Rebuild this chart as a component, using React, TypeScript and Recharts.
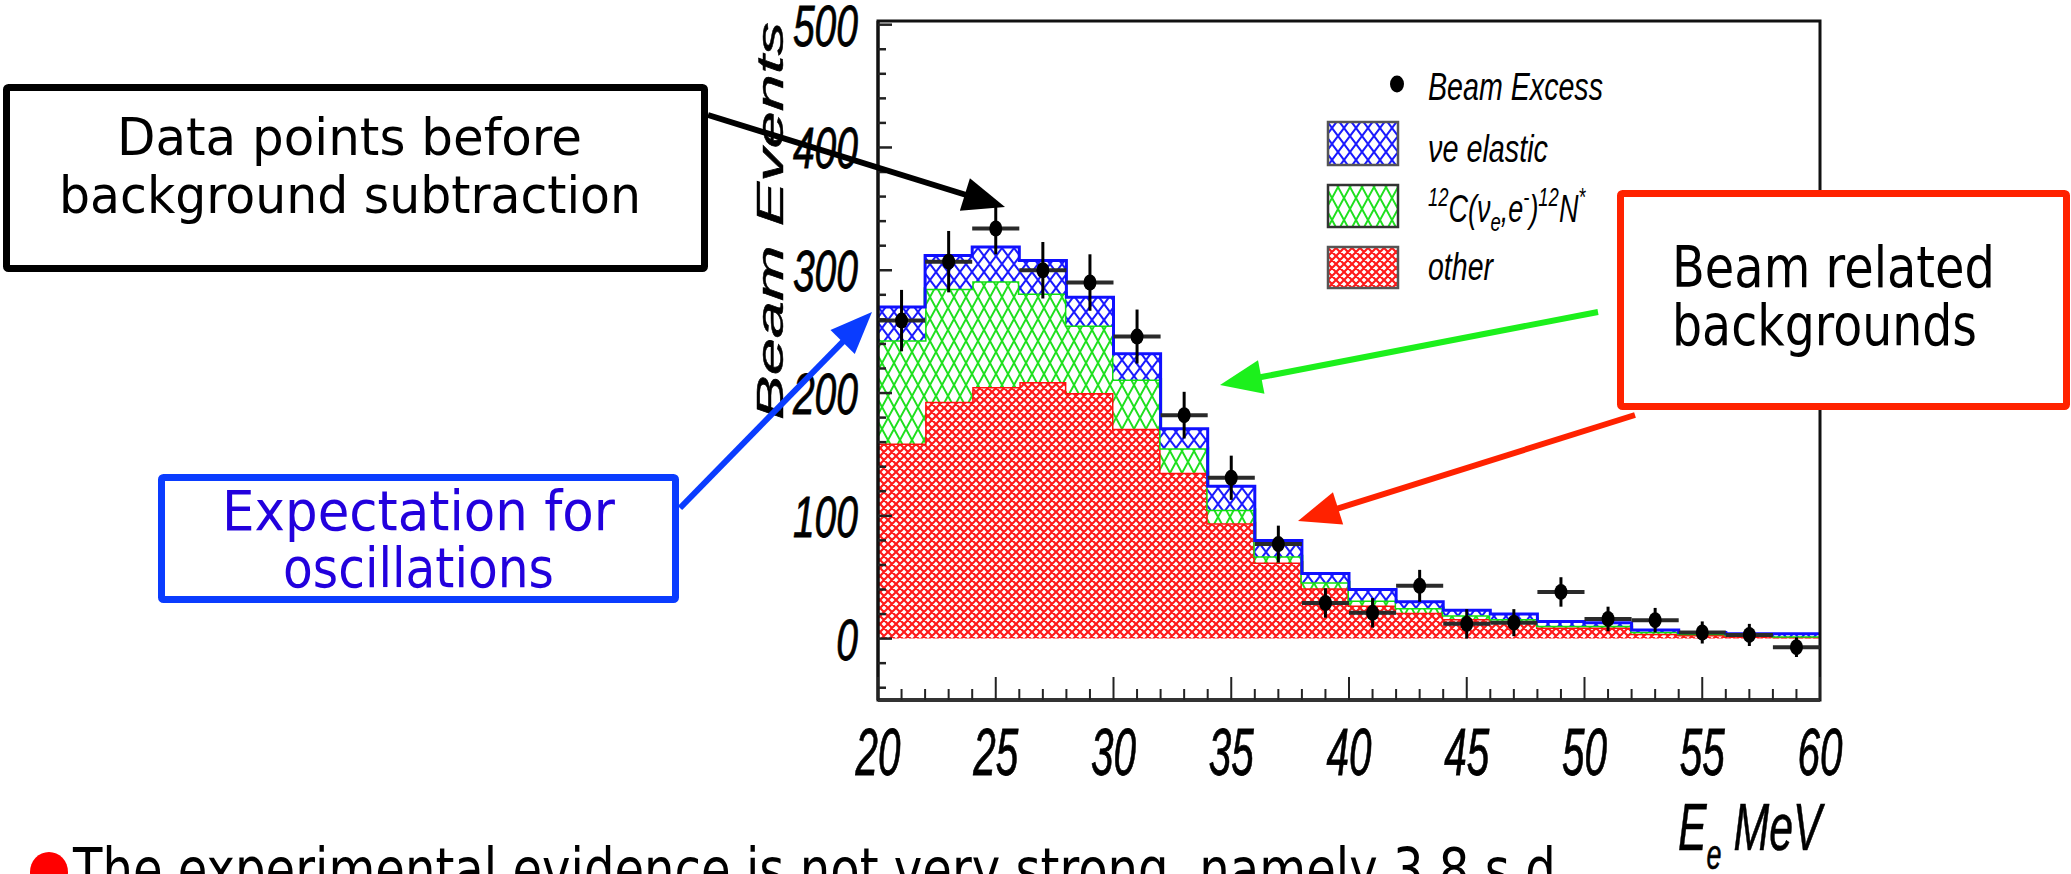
import React from 'react'
import { ComposedChart, Area, Scatter, ErrorBar, XAxis, YAxis, ReferenceArea } from 'recharts'

// 2 MeV bins, lower edges
const BIN_LOW = [20, 22, 24, 26, 28, 30, 32, 34, 36, 38, 40, 42, 44, 46, 48, 50, 52, 54, 56, 58]
const BIN_W = 2

// stacked expectation per bin
const OTHER = [159, 193, 205, 209, 200, 171, 135, 94, 62, 41, 27, 21, 16, 14, 9, 9, 4, 3, 2, 1.5]
const C12_NSTAR = [84, 92, 86, 72, 55, 40, 20, 11, 5, 5, 4, 4, 3, 2, 1.5, 1.5, 1.5, 1, 1, 0.5]
const NUE_ELASTIC = [27, 27, 28, 27, 23, 21, 16, 19, 13, 7, 9, 5, 4, 4, 3.5, 2.5, 1.5, 1, 1, 2]

// beam excess with statistical errors
const BEAM_EXCESS = [259, 307, 334, 300, 290, 246, 182, 131, 77, 29, 21, 43, 12, 13, 38, 16, 15, 5, 3, -7]
const EXCESS_ERR = [25, 25, 21, 23, 23, 22, 19, 18, 15, 12, 12, 13, 12, 11, 12, 10, 10, 9, 9, 8]

const X_DOMAIN = [20, 60]
const Y_DOMAIN = [-50, 503]

const range = (a: number, b: number, s: number) => {
  const out: number[] = []
  for (let v = a; v <= b; v += s) out.push(v)
  return out
}
const X_TICKS = range(20, 60, 1)
const Y_TICKS = range(-40, 500, 20)

const last = BIN_LOW.length - 1
const histData = [
  ...BIN_LOW.map((x, i) => ({ x, other: OTHER[i], c12: C12_NSTAR[i], nue: NUE_ELASTIC[i] })),
  { x: BIN_LOW[last] + BIN_W, other: OTHER[last], c12: C12_NSTAR[last], nue: NUE_ELASTIC[last] },
]
const points = BIN_LOW.map((x, i) => ({
  x: x + BIN_W / 2,
  y: BEAM_EXCESS[i],
  ey: EXCESS_ERR[i],
  ex: BIN_W / 2,
}))

const ROOT_FONT = '"Liberation Sans", Arial, sans-serif'
const NOTE_FONT = '"DejaVu Sans", sans-serif'

function YTick({ x, y, payload }: any) {
  const v = payload.value
  const major = v % 100 === 0
  return (
    <g>
      <line x1={x} x2={x + (major ? 14 : 8)} y1={y} y2={y} stroke="#222" strokeWidth={2.5} />
      {major && (
        <text
          x={x - 20}
          y={y + 21}
          textAnchor="end"
          fontFamily={ROOT_FONT}
          fontStyle="italic"
          fontSize={58}
          textLength={21.7 * String(v).length}
          lengthAdjust="spacingAndGlyphs"
          fill="#000"
          stroke="#000"
          strokeWidth={0.8}
        >
          {v}
        </text>
      )}
    </g>
  )
}

function XTick({ x, y, payload }: any) {
  const v = payload.value
  const major = v % 5 === 0
  return (
    <g>
      <line x1={x} x2={x} y1={y} y2={y - (major ? 23 : 11)} stroke="#222" strokeWidth={2} />
      {major && (
        <text
          x={x}
          y={y + 75}
          textAnchor="middle"
          fontFamily={ROOT_FONT}
          fontStyle="italic"
          fontSize={67}
          textLength={45}
          lengthAdjust="spacingAndGlyphs"
          fill="#000"
          stroke="#000"
          strokeWidth={0.8}
        >
          {v}
        </text>
      )}
    </g>
  )
}

const renderDot = (p: any) => <ellipse cx={p.cx} cy={p.cy} rx={6.5} ry={8} fill="#000" />

function Arrow({ from, to, color, width = 6, head = 42, half = 17 }: any) {
  const [x1, y1] = from
  const [x2, y2] = to
  const len = Math.hypot(x2 - x1, y2 - y1)
  const ux = (x2 - x1) / len
  const uy = (y2 - y1) / len
  const bx = x2 - ux * head
  const by = y2 - uy * head
  return (
    <g>
      <line x1={x1} y1={y1} x2={bx + ux * 4} y2={by + uy * 4} stroke={color} strokeWidth={width} />
      <polygon
        points={`${x2},${y2} ${bx - uy * half},${by + ux * half} ${bx + uy * half},${by - ux * half}`}
        fill={color}
      />
    </g>
  )
}

function Note({ x, y, len, size, color = '#000', children }: any) {
  return (
    <text
      x={x}
      y={y}
      fontFamily={NOTE_FONT}
      fontSize={size}
      textLength={len}
      lengthAdjust="spacingAndGlyphs"
      fill={color}
    >
      {children}
    </text>
  )
}

function Patterns() {
  return (
    <svg width={0} height={0} style={{ position: 'absolute' }}>
      <defs>
        <pattern id="hatchOther" patternUnits="userSpaceOnUse" width={8} height={8}>
          <rect width={8} height={8} fill="#fff" />
          <path d="M0,0 L8,8 M8,0 L0,8 M-2,6 L2,10 M6,-2 L10,2 M-2,2 L2,-2 M6,10 L10,6" stroke="#ff1a1a" strokeWidth={2.2} />
        </pattern>
        <pattern id="hatchC12" patternUnits="userSpaceOnUse" width={12} height={22}>
          <rect width={12} height={22} fill="#fff" />
          <path d="M0,0 L12,22 M12,0 L0,22" stroke="#1ee01e" strokeWidth={2} />
        </pattern>
        <pattern id="hatchNue" patternUnits="userSpaceOnUse" width={12} height={16}>
          <rect width={12} height={16} fill="#fff" />
          <path d="M0,0 L12,16 M12,0 L0,16" stroke="#1a1aff" strokeWidth={2} />
        </pattern>
      </defs>
    </svg>
  )
}

function Overlay() {
  return (
    <svg
      width={2071}
      height={874}
      style={{ position: 'absolute', left: 0, top: 0, pointerEvents: 'none' }}
    >
      {/* axis titles */}
      <text
        transform="translate(783,420) scale(0.57,1) rotate(-90)"
        fontFamily={ROOT_FONT}
        fontStyle="italic"
        fontSize={64}
        textLength={398}
        lengthAdjust="spacingAndGlyphs"
        fill="#000"
        stroke="#000"
        strokeWidth={0.8}
      >
        Beam Events
      </text>
      <text
        transform="translate(1678,850) scale(0.64,1)"
        fontFamily={ROOT_FONT}
        fontStyle="italic"
        fontSize={67}
        fill="#000"
        stroke="#000"
        strokeWidth={0.6}
      >
        <tspan>E</tspan>
        <tspan fontSize={42} dy={19}>e</tspan>
        <tspan dy={-19}> MeV</tspan>
      </text>

      {/* legend */}
      <ellipse cx={1397} cy={84} rx={7} ry={8.5} fill="#000" />
      <text x={1428} y={100} fontFamily={ROOT_FONT} fontStyle="italic" fontSize={38} textLength={175} lengthAdjust="spacingAndGlyphs">Beam Excess</text>
      <rect x={1328} y={122} width={70} height={43} fill="url(#hatchNue)" stroke="#555" strokeWidth={2.5} />
      <rect x={1328} y={185} width={70} height={42} fill="url(#hatchC12)" stroke="#333" strokeWidth={2.5} />
      <rect x={1328} y={247} width={70} height={41} fill="url(#hatchOther)" stroke="#555" strokeWidth={2.5} />
      <text x={1428} y={162} fontFamily={ROOT_FONT} fontStyle="italic" fontSize={38} textLength={120} lengthAdjust="spacingAndGlyphs">νe elastic</text>
      <text transform="translate(1428,222) scale(0.71,1)" fontFamily={ROOT_FONT} fontStyle="italic" fontSize={38}>
        <tspan fontSize={26} dy={-16}>12</tspan>
        <tspan dy={16}>C(ν</tspan>
        <tspan fontSize={26} dy={9}>e</tspan>
        <tspan dy={-9}>,e</tspan>
        <tspan fontSize={26} dy={-16}>-</tspan>
        <tspan dy={16}>)</tspan>
        <tspan fontSize={26} dy={-16}>12</tspan>
        <tspan dy={16}>N</tspan>
        <tspan fontSize={26} dy={-16}>*</tspan>
      </text>
      <text x={1428} y={280} fontFamily={ROOT_FONT} fontStyle="italic" fontSize={38} textLength={65} lengthAdjust="spacingAndGlyphs">other</text>

      {/* arrows */}
      <Arrow from={[708, 115]} to={[1005, 207]} color="#000" />
      <Arrow from={[680, 508]} to={[872, 312]} color="#0a3cff" />
      <Arrow from={[1598, 312]} to={[1220, 385]} color="#1cf01c" />
      <Arrow from={[1635, 415]} to={[1298, 521]} color="#ff2200" />

      {/* callout boxes */}
      <rect x={6.5} y={87.5} width={698} height={181} fill="#fff" stroke="#000" strokeWidth={7} rx={2} />
      <Note x={117} y={155} len={465} size={51}>Data points before</Note>
      <Note x={59} y={213} len={582} size={51}>background subtraction</Note>

      <rect x={161.5} y={477.5} width={514} height={122} fill="#fff" stroke="#0a3cff" strokeWidth={7} rx={2} />
      <Note x={222} y={530} len={393} size={56} color="#2200dd">Expectation for</Note>
      <Note x={283} y={587} len={271} size={56} color="#2200dd">oscillations</Note>

      <rect x={1620.5} y={193.5} width={446} height={213} fill="#fff" stroke="#ff2200" strokeWidth={7} rx={2} />
      <Note x={1672} y={287} len={323} size={57}>Beam related</Note>
      <Note x={1672} y={345} len={305} size={57}>backgrounds</Note>

      {/* bullet line */}
      <ellipse cx={49} cy={872} rx={19} ry={20} fill="#ff0000" />
      <Note x={73} y={890} len={1498} size={58}>
        The experimental evidence is not very strong, namely 3.8 s.d.
      </Note>
    </svg>
  )
}

export default function App() {
  return (
    <div style={{ position: 'absolute', left: 0, top: 0, width: 2071, height: 874, background: '#fff', overflow: 'hidden' }}>
      <Patterns />
      <ComposedChart
        width={2071}
        height={874}
        data={histData}
        margin={{ top: 21, right: 251, bottom: 114, left: 778 }}
      >
        <XAxis
          type="number"
          dataKey="x"
          domain={X_DOMAIN}
          ticks={X_TICKS}
          interval={0}
          tickSize={0}
          tickMargin={0}
          tick={<XTick />}
          axisLine={{ stroke: '#333', strokeWidth: 4 }}
          height={60}
          allowDataOverflow
        />
        <YAxis
          type="number"
          domain={Y_DOMAIN}
          ticks={Y_TICKS}
          interval={0}
          tickSize={0}
          tickMargin={0}
          tick={<YTick />}
          axisLine={{ stroke: '#111', strokeWidth: 3 }}
          width={100}
          allowDataOverflow
        />
        <Area
          type="stepAfter"
          dataKey="other"
          stackId="bg"
          stroke="#ff1010"
          strokeWidth={3}
          fill="url(#hatchOther)"
          fillOpacity={1}
          dot={false}
          activeDot={false}
          isAnimationActive={false}
        />
        <Area
          type="stepAfter"
          dataKey="c12"
          stackId="bg"
          stroke="#10e010"
          strokeWidth={3}
          fill="url(#hatchC12)"
          fillOpacity={1}
          dot={false}
          activeDot={false}
          isAnimationActive={false}
        />
        <Area
          type="stepAfter"
          dataKey="nue"
          stackId="bg"
          stroke="#1010ff"
          strokeWidth={3}
          fill="url(#hatchNue)"
          fillOpacity={1}
          dot={false}
          activeDot={false}
          isAnimationActive={false}
        />
        <Scatter data={points} dataKey="y" fill="#000" shape={renderDot} isAnimationActive={false}>
          <ErrorBar dataKey="ex" direction="x" width={0} stroke="#2a2a2a" strokeWidth={4} />
          <ErrorBar dataKey="ey" direction="y" width={0} stroke="#000" strokeWidth={3} />
        </Scatter>
        <ReferenceArea
          x1={20}
          x2={60}
          y1={-50}
          y2={503}
          fill="none"
          stroke="#111"
          strokeWidth={3}
          ifOverflow="visible"
        />
      </ComposedChart>
      <Overlay />
    </div>
  )
}
